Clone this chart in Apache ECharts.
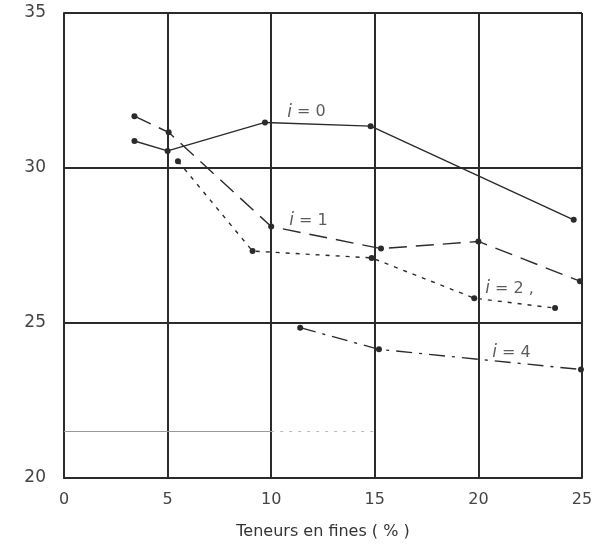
<!DOCTYPE html>
<html><head><meta charset="utf-8">
<script src="https://cdn.jsdelivr.net/npm/echarts@6/dist/echarts.min.js"></script>
<style>html,body{margin:0;padding:0;background:#fff}#c{width:603px;height:547px}</style>
</head><body><div id="c"></div>
<script>
const xTicks = [0, 5, 10, 15, 20, 25];
const yTicks = [20, 25, 30, 35];
const xName = 'Teneurs en fines ( % )';
const s0 = [[3.4, 30.87], [5.0, 30.55], [9.7, 31.47], [14.8, 31.35], [24.6, 28.33]];
const s1 = [[3.4, 31.67], [5.05, 31.15], [10.0, 28.11], [15.3, 27.4], [20.0, 27.63], [24.9, 26.35]];
const s2 = [[5.5, 30.22], [9.1, 27.32], [14.85, 27.1], [19.8, 25.8], [23.7, 25.48]];
const s4 = [[11.4, 24.85], [15.2, 24.15], [24.95, 23.5]];
const labels = [
  {pos: [11.7, 31.8], text: '0'},
  {pos: [11.8, 28.3], text: '1'},
  {pos: [21.5, 26.1], text: '2 ,'},
  {pos: [21.6, 24.05], text: '4'}
];
const artifact = [[0, 21.5], [10, 21.5]];
const artifactDotted = [[10, 21.5], [15.2, 21.5]];

const ink = '#2b2b2b';
function lineSeries(data, type) {
  return {
    type: 'line', data: data, symbol: 'circle', symbolSize: 6,
    itemStyle: {color: ink},
    lineStyle: {color: ink, width: 1.4, type: type},
    animation: false, z: 5
  };
}
const chart = echarts.init(document.getElementById('c'));
chart.setOption({
  backgroundColor: '#fff',
  grid: {left: 64, right: 21, top: 13, bottom: 69},
  xAxis: {
    type: 'value', min: 0, max: 25, interval: 5,
    name: xName, nameLocation: 'middle', nameGap: 46,
    nameTextStyle: {fontFamily: 'DejaVu Sans', fontSize: 16, color: '#333'},
    axisLine: {show: true, lineStyle: {color: ink, width: 2}},
    axisTick: {show: false},
    axisLabel: {fontFamily: 'DejaVu Sans', fontSize: 16, color: '#444', margin: 14,
      formatter: v => xTicks.includes(v) ? String(v) : ''},
    splitLine: {show: true, lineStyle: {color: ink, width: 2}}
  },
  yAxis: {
    type: 'value', min: 20, max: 35, interval: 5,
    axisLine: {show: true, lineStyle: {color: ink, width: 2}},
    axisTick: {show: false},
    axisLabel: {fontFamily: 'DejaVu Sans', fontSize: 17, color: '#444', margin: 18,
      formatter: v => yTicks.includes(v) ? String(v) : ''},
    splitLine: {show: true, lineStyle: {color: ink, width: 2}}
  },
  series: [
    {type: 'line', data: artifact, symbol: 'none', lineStyle: {color: '#999', width: 1.2}, animation: false, z: 1},
    {type: 'line', data: artifactDotted, symbol: 'none', lineStyle: {color: '#bbb', width: 1, type: [3, 6]}, animation: false, z: 1},
    lineSeries(s0, 'solid'),
    lineSeries(s1, [18, 9]),
    lineSeries(s2, [4, 6]),
    lineSeries(s4, [16, 7, 3, 7]),
    {
      type: 'scatter', symbolSize: 0, animation: false, z: 6,
      data: labels.map(l => ({value: l.pos, name: l.text})),
      label: {
        show: true, position: 'inside',
        formatter: p => '{it|i}{n| = ' + p.name + '}',
        rich: {
          it: {fontFamily: 'DejaVu Sans', fontStyle: 'italic', fontSize: 17, color: '#333'},
          n: {fontFamily: 'DejaVu Sans', fontSize: 16, color: '#333'}
        }
      }
    }
  ]
});
</script></body></html>
